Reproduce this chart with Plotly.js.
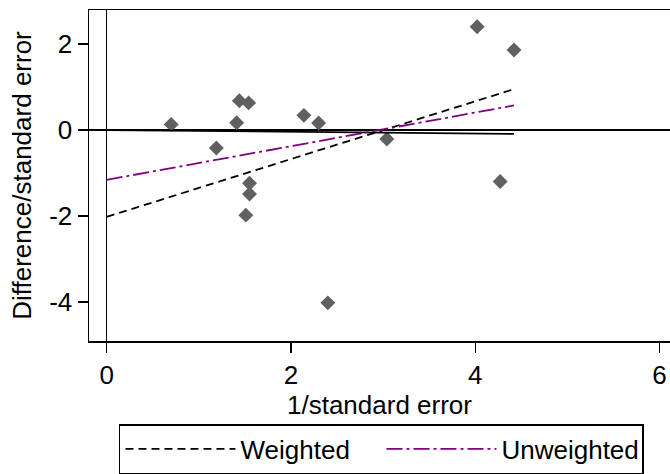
<!DOCTYPE html>
<html>
<head>
<meta charset="utf-8">
<script src="https://cdn.plot.ly/plotly-2.35.2.min.js"></script>
<style>html,body{margin:0;padding:0;background:#fff;}#chart{width:670px;height:474px;}</style>
</head>
<body>
<div id="chart"></div>
<script>
// Study points: 1/standard error vs difference/standard error
const invSE = [0.70, 1.19, 1.44, 1.41, 1.54, 1.55, 1.55, 1.51, 2.14, 2.30, 2.40, 3.04, 4.02, 4.42, 4.27];
const diffSE = [0.13, -0.42, 0.68, 0.17, 0.63, -1.24, -1.49, -1.98, 0.34, 0.16, -4.02, -0.21, 2.40, 1.86, -1.20];

// Fitted lines (endpoints)
const fitX = [0, 4.42];
const weightedY = [-2.02, 0.95];
const unweightedY = [-1.16, 0.57];
const refY = [0, -0.09];

const xTicks = [0, 2, 4, 6];
const yTicks = [-4, -2, 0, 2];

const FONT = "Liberation Sans, Arial, Helvetica, sans-serif";

const traces = [
  {x: invSE, y: diffSE, type: 'scatter', mode: 'markers', showlegend: false,
   marker: {symbol: 'diamond', size: 11.5, color: '#606060'}, hoverinfo: 'x+y'},
  {x: fitX, y: refY, type: 'scatter', mode: 'lines', showlegend: false,
   line: {color: '#000000', width: 1.8}},
  {x: fitX, y: weightedY, type: 'scatter', mode: 'lines', name: 'Weighted',
   line: {color: '#000000', width: 1.8, dash: '8px,5px'}},
  {x: fitX, y: unweightedY, type: 'scatter', mode: 'lines', name: 'Unweighted',
   line: {color: '#800080', width: 1.8, dash: '16px,4px,3px,4px'}}
];

const layout = {
  width: 670, height: 474,
  margin: {l: 89, r: 0, t: 10, b: 133},
  paper_bgcolor: '#ffffff', plot_bgcolor: '#ffffff',
  font: {family: FONT, size: 26, color: '#000000'},
  xaxis: {
    range: [-0.192, 6.113], tickvals: xTicks, ticktext: xTicks.map(String),
    showline: true, mirror: true, linecolor: '#000', linewidth: 1.5,
    ticks: 'outside', ticklen: 10, tickwidth: 1.5, tickcolor: '#000',
    showgrid: false, zeroline: true, zerolinecolor: '#000', zerolinewidth: 1.5,
    tickfont: {size: 26, family: FONT},
    title: {text: '1/standard error', font: {size: 26, family: FONT}, standoff: 0}
  },
  yaxis: {
    range: [-4.907, 2.79], tickvals: yTicks, ticktext: yTicks.map(String),
    showline: true, mirror: false, linecolor: '#000', linewidth: 1.5,
    ticks: 'outside', ticklen: 10, tickwidth: 1.5, tickcolor: '#000',
    showgrid: false, zeroline: true, zerolinecolor: '#000', zerolinewidth: 2,
    tickfont: {size: 26, family: FONT},
    title: {text: 'Difference/standard error', font: {size: 26, family: FONT}, standoff: 10}
  },
  showlegend: true,
  legend: {
    orientation: 'h', x: 0.0516, xanchor: 'left', y: -0.252, yanchor: 'top',
    bordercolor: '#000', borderwidth: 1.5, bgcolor: '#fff',
    font: {size: 26, family: FONT}, itemwidth: 110, entrywidth: 136
  }
};

Plotly.newPlot('chart', traces, layout, {staticPlot: true});
</script>
</body>
</html>
